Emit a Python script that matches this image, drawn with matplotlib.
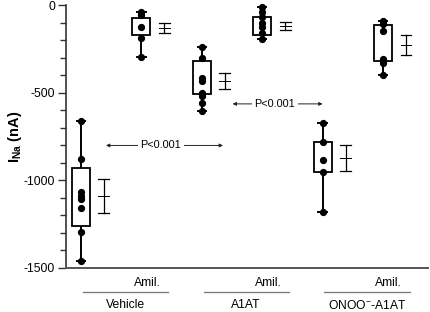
import matplotlib
matplotlib.use("Agg")
import matplotlib.pyplot as plt
import matplotlib.transforms as mtransforms

plt.rcParams['font.family'] = ['Liberation Sans', 'DejaVu Sans']
plt.rcParams['mathtext.fontset'] = 'custom'
plt.rcParams['mathtext.rm'] = 'Liberation Sans'
plt.rcParams['mathtext.bf'] = 'Liberation Sans:bold'

# ---- data ----
groups = ["Vehicle", "A1AT", "ONOO$^{-}$-A1AT"]
amil_label = "Amil."
vehicle = [-662, -880, -1069, -1090, -1108, -1158, -1297, -1458]
vehicle_amil = [-40, -57, -125, -186, -298]
a1at = [-240, -305, -415, -432, -500, -520, -560, -605]
a1at_amil = [-10, -38, -67, -105, -124, -161, -196]
onoo = [-674, -779, -883, -950, -1178]
onoo_amil = [-90, -110, -148, -310, -332, -400]
series = [vehicle, vehicle_amil, a1at, a1at_amil, onoo, onoo_amil]
box_low = [-1262, -172, -510, -171, -950, -318]
box_high = [-928, -75, -320, -67, -779, -112]
means = [-1091, -133, -435, -118, -873, -228]
sems = [97, 29, 45, 22, 72, 55]
p_text = "P<0.001"
yticks = [0, -500, -1000, -1500]

fig = plt.figure(figsize=(4.30, 3.12), dpi=100)
ax = fig.add_axes([66/430, 1-268/312, (428-66)/430, 263/312])

positions = list(range(1, len(series)+1))
bw = 0.30
cap = 0.07
eb_off = 0.38
eb_cap = 0.09

for pos, pts, lo, hi, m, s in zip(positions, series, box_low, box_high, means, sems):
    # whiskers
    ax.plot([pos, pos], [min(pts), lo], color='black', lw=1.4, solid_capstyle='butt', zorder=2, clip_on=False)
    ax.plot([pos, pos], [hi, max(pts)], color='black', lw=1.4, solid_capstyle='butt', zorder=2, clip_on=False)
    for end in (min(pts), max(pts)):
        ax.plot([pos-cap, pos+cap], [end, end], color='black', lw=1.4, zorder=3, clip_on=False)
    # box
    ax.add_patch(plt.Rectangle((pos-bw/2, lo), bw, hi-lo, fill=False, edgecolor='black', lw=1.3, zorder=2))
    # points
    ax.plot([pos]*len(pts), pts, 'o', color='black', ms=4.2, zorder=4, clip_on=False)
    # mean +/- sem
    ex = pos + eb_off
    ax.plot([ex, ex], [m-s, m+s], color='black', lw=0.9, zorder=2)
    for yv in (m-s, m+s):
        ax.plot([ex-eb_cap, ex+eb_cap], [yv, yv], color='black', lw=0.9, zorder=2)
    ax.plot([ex-eb_cap, ex+eb_cap], [m, m], color='black', lw=0.7, zorder=2)

ax.set_xlim(0.752, 6.745)
ax.set_ylim(-1500, 0)
ax.set_yticks(yticks)
ax.set_yticklabels([str(v) for v in yticks], fontsize=8.7)
ax.set_yticks(list(range(-1500, 1, 100)), minor=True)
ax.tick_params(axis='y', which='major', length=6, width=1.0, color='#333333', pad=2)
ax.tick_params(axis='y', which='minor', length=4, width=1.0, color='#333333')
ax.set_xticks([])
for sp in ('top', 'right'):
    ax.spines[sp].set_visible(False)
ax.spines['left'].set_color('#333333')
ax.spines['bottom'].set_color('#555555')
ax.spines['left'].set_linewidth(1.2)
ax.spines['bottom'].set_linewidth(1.4)

ax.set_ylabel(r'$\mathbf{I}_{\mathbf{Na}}$ (nA)', fontsize=10.5, fontweight='bold', labelpad=0)

# significance annotations
def sig(x0, x1, xt, y):
    ax.annotate('', xy=(x0, y), xytext=(x1, y),
                arrowprops=dict(arrowstyle='<|-|>', mutation_scale=5, lw=0.7, color='#222222',
                                shrinkA=0, shrinkB=0))
    ax.text(xt, y, p_text, fontsize=7.8, ha='center', va='center', zorder=5,
            bbox=dict(facecolor='white', edgecolor='none', pad=1.8))

sig(1.414, 3.351, 2.32, -801)
sig(3.51, 5.00, 4.21, -564)

# bottom labels
trans = mtransforms.blended_transform_factory(ax.transData, ax.transAxes)
for i, g in enumerate(groups):
    p0 = positions[2*i]
    p1 = positions[2*i+1]
    xs, xe = p0 + 0.03, p1 + 0.44
    ax.plot([xs, xe], [-0.091, -0.091], transform=trans, color='#777777', lw=0.9, clip_on=False)
    ax.text(xe - 0.12, -0.057, amil_label, transform=trans, ha='right', va='center', fontsize=8.7)
    ax.text((xs+xe)/2, -0.141, g, transform=trans, ha='center', va='center', fontsize=8.7)

fig.savefig('out.png', dpi=100)
